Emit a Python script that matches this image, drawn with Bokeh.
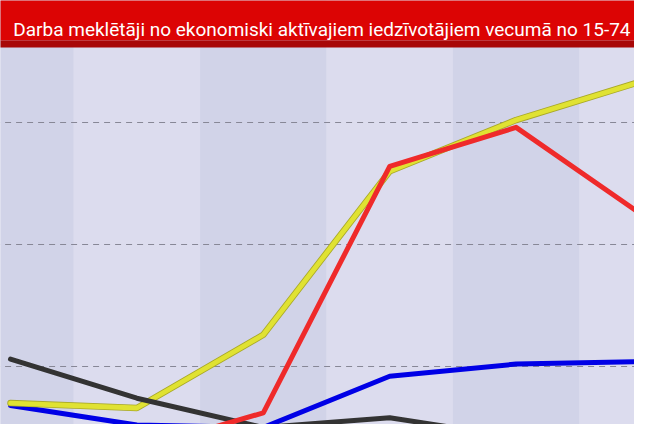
from bokeh.plotting import figure
from bokeh.models import Range1d
from bokeh.core.properties import value
from bokeh.embed import file_html
from bokeh.resources import INLINE

# ---- data ----
years = [2007, 2008, 2009, 2010, 2011, 2012]
series_yellow = [3.5, 3.3, 6.3, 13.0, 15.1, 16.7]
series_red = [2.3, 1.6, 3.1, 13.2, 14.8, 11.2]
series_blue = [3.4, 2.6, 2.5, 4.6, 5.1, 5.2]
series_black = [5.3, 3.7, 2.5, 2.9, 2.1, 1.35]
grid_values = [5, 10, 15]
title_text = "Darba meklētāji no ekonomiski aktīvajiem iedzīvotājiem vecumā no 15-74"

W, H = 634, 424
x_px = 126.4          # pixels per category
y_px = 24.4           # pixels per unit
ZERO = 488            # pixel row of value 0
x0 = years[0] - 10 / x_px
y_top = ZERO / y_px
y0 = y_top - H / y_px


def yv(row):
    return (ZERO - row) / y_px


p = figure(width=W, height=H, output_backend="svg", toolbar_location=None,
           x_range=Range1d(x0, x0 + W / x_px), y_range=Range1d(y0, y_top),
           min_border=0)
p.axis.visible = False
p.grid.visible = False
p.outline_line_color = None
p.background_fill_color = "#dcdcee"
p.border_fill_color = "white"

# alternating category bands
band_colors = ["#d1d3e8" if i % 2 == 0 else "#dcdcee" for i in range(len(years))]
p.quad(left=[y - 0.5 for y in years], right=[y + 0.5 for y in years],
       bottom=y0 - 1, top=y_top + 1, fill_color=band_colors, line_color=None)

# dashed horizontal grid
p.multi_line(xs=[[years[0] - 1, years[-1] + 1] for _ in grid_values],
             ys=[[g, g] for g in grid_values],
             line_color="#878796", line_width=1.2, line_dash="6 5")

# series
p.line(years, series_blue, line_color="#0000e6", line_width=5, line_join="round", line_cap="round")
p.line(years, series_yellow, line_color="#a9a928", line_width=6.5, line_join="round", line_cap="round")
p.line(years, series_yellow, line_color="#e0e232", line_width=4.8, line_join="round", line_cap="round")
p.line(years, series_black, line_color="#333333", line_width=5, line_join="round", line_cap="round")
p.line(years, series_red, line_color="#ef2a2a", line_width=5, line_join="round", line_cap="round")

# title bar
L, R = x0 - 1, x0 + 10
p.quad(left=L, right=R, bottom=yv(40), top=y_top + 1, fill_color="#dc0404", line_color=None)
p.quad(left=L, right=R, bottom=yv(47), top=yv(40), fill_color="#a80707", line_color=None)
p.text(x=[x0 + 630 / x_px], y=[yv(29)], text=[title_text],
       text_color="white", text_font=value("Roboto"),
       text_font_size="19px", text_align="right", text_baseline="alphabetic")

open("out.html", "w").write(file_html(p, INLINE))
